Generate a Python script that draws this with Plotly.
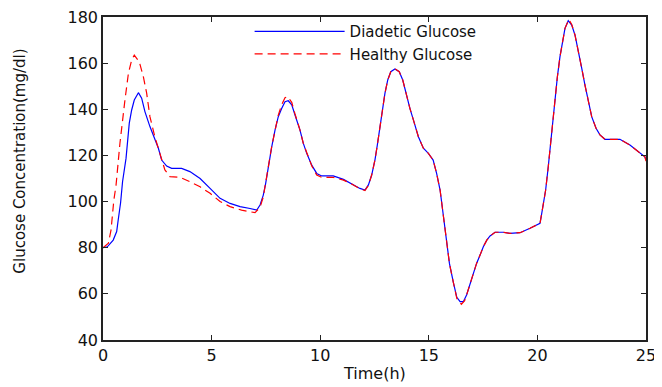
import plotly.graph_objects as go

# Diabetic glucose (blue, solid)
t_diabetic = [0, 0.2, 0.47, 0.63, 0.7, 0.81, 0.9, 1.06, 1.21, 1.32,
              1.44, 1.63, 1.78, 1.93, 2.16, 2.35, 2.55, 2.7, 2.93, 3.16,
              3.62, 4.0, 4.47, 4.93, 5.39, 5.85, 6.31, 6.77, 7.08, 7.23,
              7.38, 7.49, 7.61, 7.77, 7.92, 8.07, 8.23, 8.38, 8.53, 8.69,
              8.84, 9.07, 9.22, 9.38, 9.61, 9.84, 10.07, 10.6, 11.07, 11.37,
              11.83, 12.06, 12.22, 12.37, 12.52, 12.63, 12.75, 12.88, 12.98, 13.11,
              13.25, 13.44, 13.64, 13.8, 13.95, 14.13, 14.29, 14.52, 14.75, 14.98,
              15.2, 15.36, 15.52, 15.64, 15.79, 15.95, 16.13, 16.29, 16.44, 16.59,
              16.74, 16.9, 17.05, 17.2, 17.36, 17.51, 17.67, 17.82, 18.05, 18.43,
              18.74, 19.2, 19.66, 20.12, 20.2, 20.27, 20.38, 20.5, 20.61, 20.73,
              20.81, 20.92, 21.04, 21.17, 21.27, 21.42, 21.58, 21.73, 21.88, 22.04,
              22.19, 22.35, 22.5, 22.7, 22.88, 23.11, 23.8, 24.26, 24.65, 24.95,
              25]
g_diabetic = [80, 80.4, 83.3, 87, 92, 99.5, 108.6, 118.7, 134, 139.7,
              144, 147.2, 144.8, 139, 132.5, 128.1, 123.1, 118, 115.4, 114.4,
              114.4, 113, 110, 105.7, 101.4, 99.2, 97.8, 97, 96.3, 98.5,
              102.8, 107.9, 115.1, 123.8, 131, 136.8, 140.4, 143.3, 143.7, 141.9,
              137.5, 131, 125.3, 120.9, 115.8, 112.2, 111.1, 111.1, 109.6, 108.2,
              105.7, 105, 107.2, 111.5, 118, 124.5, 132.5, 140.4, 146.9, 152.7,
              156.3, 157.5, 156.3, 152.7, 146.9, 140.4, 135.4, 128.1, 123.1, 120.9,
              118, 112.2, 105, 96.3, 84.8, 73.2, 65, 58.5, 56.6, 56.6,
              59.5, 64.6, 68.9, 73.2, 76.8, 80.4, 83.3, 85.1, 86.7, 86.7,
              86.2, 86.5, 88.4, 90.6, 94.9, 99.2, 105, 115.1, 126, 135.4,
              145.5, 154.1, 162.8, 170, 175.1, 178.4, 176.5, 172.2, 165.7, 157.8,
              150.5, 143.3, 136.8, 131.8, 128.9, 127, 127, 124.5, 121.6, 119.4,
              118]

# Healthy glucose (red, dashed)
t_healthy = [0, 0.25, 0.37, 0.5, 0.6, 0.78, 1.01, 1.17, 1.32, 1.44,
             1.67, 1.86, 2.01, 2.16, 2.39, 2.62, 2.85, 3.08, 3.55, 4.0,
             4.47, 4.93, 5.39, 5.85, 6.38, 7.0, 7.23, 7.38, 7.49, 7.61,
             7.77, 7.92, 8.07, 8.23, 8.38, 8.5, 8.69, 8.84, 9.07, 9.22,
             9.38, 9.61, 9.84, 10.07, 10.6, 11.07, 11.37, 11.83, 12.06, 12.22,
             12.37, 12.52, 12.63, 12.75, 12.88, 12.98, 13.11, 13.25, 13.44, 13.64,
             13.8, 13.95, 14.13, 14.29, 14.52, 14.75, 14.98, 15.2, 15.36, 15.52,
             15.64, 15.79, 15.95, 16.13, 16.29, 16.5, 16.65, 16.74, 16.9, 17.05,
             17.2, 17.36, 17.51, 17.67, 17.82, 18.05, 18.43, 18.74, 19.2, 19.66,
             20.12, 20.2, 20.27, 20.38, 20.5, 20.61, 20.73, 20.81, 20.92, 21.04,
             21.17, 21.27, 21.45, 21.58, 21.73, 21.88, 22.04, 22.19, 22.35, 22.5,
             22.7, 22.88, 23.11, 23.8, 24.26, 24.65, 24.95, 25]
g_healthy = [80, 82, 87.7, 100.7, 107, 125.3, 144, 155.6, 161.4, 163.5,
             160.6, 154, 147, 136.8, 128, 121, 113.7, 110.8, 110.5, 108.6,
             106.4, 103.6, 100, 97.8, 96.3, 95.2, 97.5, 102, 107.5, 115,
             124, 131.5, 137.5, 142, 145, 145.5, 143, 138, 131, 125.3,
             120.9, 115.5, 111.5, 110.5, 110.5, 109.3, 108, 105.5, 104.8, 107,
             111.5, 118, 124.5, 132.5, 140.4, 146.9, 152.7, 156.3, 157.5, 156.3,
             152.7, 146.9, 140.4, 135.4, 128.1, 123.1, 120.9, 118, 112.2, 105,
             96.3, 84.8, 73.2, 65, 58, 55.5, 57, 59.5, 64.6, 68.9,
             73.2, 76.8, 80.4, 83.3, 85.1, 86.7, 86.7, 86.2, 86.5, 88.4,
             90.6, 94.9, 99.2, 105, 115.1, 126, 135.4, 145.5, 154.1, 162.8,
             170, 175.1, 179, 176.8, 172.2, 165.7, 157.8, 150.5, 143.3, 136.8,
             131.8, 128.9, 127, 127, 124.5, 121.6, 119.4, 117.5]

x_ticks = [0, 5, 10, 15, 20, 25]
y_ticks = [40, 60, 80, 100, 120, 140, 160, 180]

FONT = "DejaVu Sans"

fig = go.Figure()
fig.add_trace(go.Scatter(x=t_diabetic, y=g_diabetic, mode="lines",
                         name="Diadetic Glucose",
                         line=dict(color="#0000ff", width=1.2)))
fig.add_trace(go.Scatter(x=t_healthy, y=g_healthy, mode="lines",
                         name="Healthy Glucose",
                         line=dict(color="#ff0000", width=1.2, dash="8px,5px")))

axis_common = dict(showgrid=False, zeroline=False, showline=True,
                   linecolor="#222222", linewidth=1.5, mirror="ticks",
                   ticks="inside", ticklen=5, tickcolor="#222222",
                   automargin=False, ticklabeloverflow="allow",
                   tickfont=dict(family=FONT, size=16, color="#111111"))

fig.update_xaxes(range=[0, 25], tickvals=x_ticks, **axis_common)
fig.update_yaxes(range=[40, 180], tickvals=y_ticks, **axis_common)

# axis titles as annotations for exact placement
fig.add_annotation(text="Time(h)", xref="paper", yref="paper",
                   x=0.5, y=-0.105, xanchor="center", yanchor="middle",
                   showarrow=False, font=dict(family=FONT, size=16, color="#111111"))
fig.add_annotation(text="Glucose Concentration(mg/dl)", textangle=-90,
                   xref="paper", yref="paper", x=-0.153, y=0.555,
                   xanchor="center", yanchor="middle",
                   showarrow=False, font=dict(family=FONT, size=15, color="#111111"))

# the page body adds an 8px offset at top/left
fig.update_layout(
    width=654, height=379,
    margin=dict(l=95, r=16, t=9, b=47, autoexpand=False),
    paper_bgcolor="white", plot_bgcolor="white",
    legend=dict(x=0.27, y=1.006, xanchor="left", yanchor="top",
                bgcolor="rgba(255,255,255,0)", itemwidth=90,
                font=dict(family=FONT, size=15, color="#111111"),
                tracegroupgap=0),
    showlegend=True,
)

fig.write_html("out.html")
